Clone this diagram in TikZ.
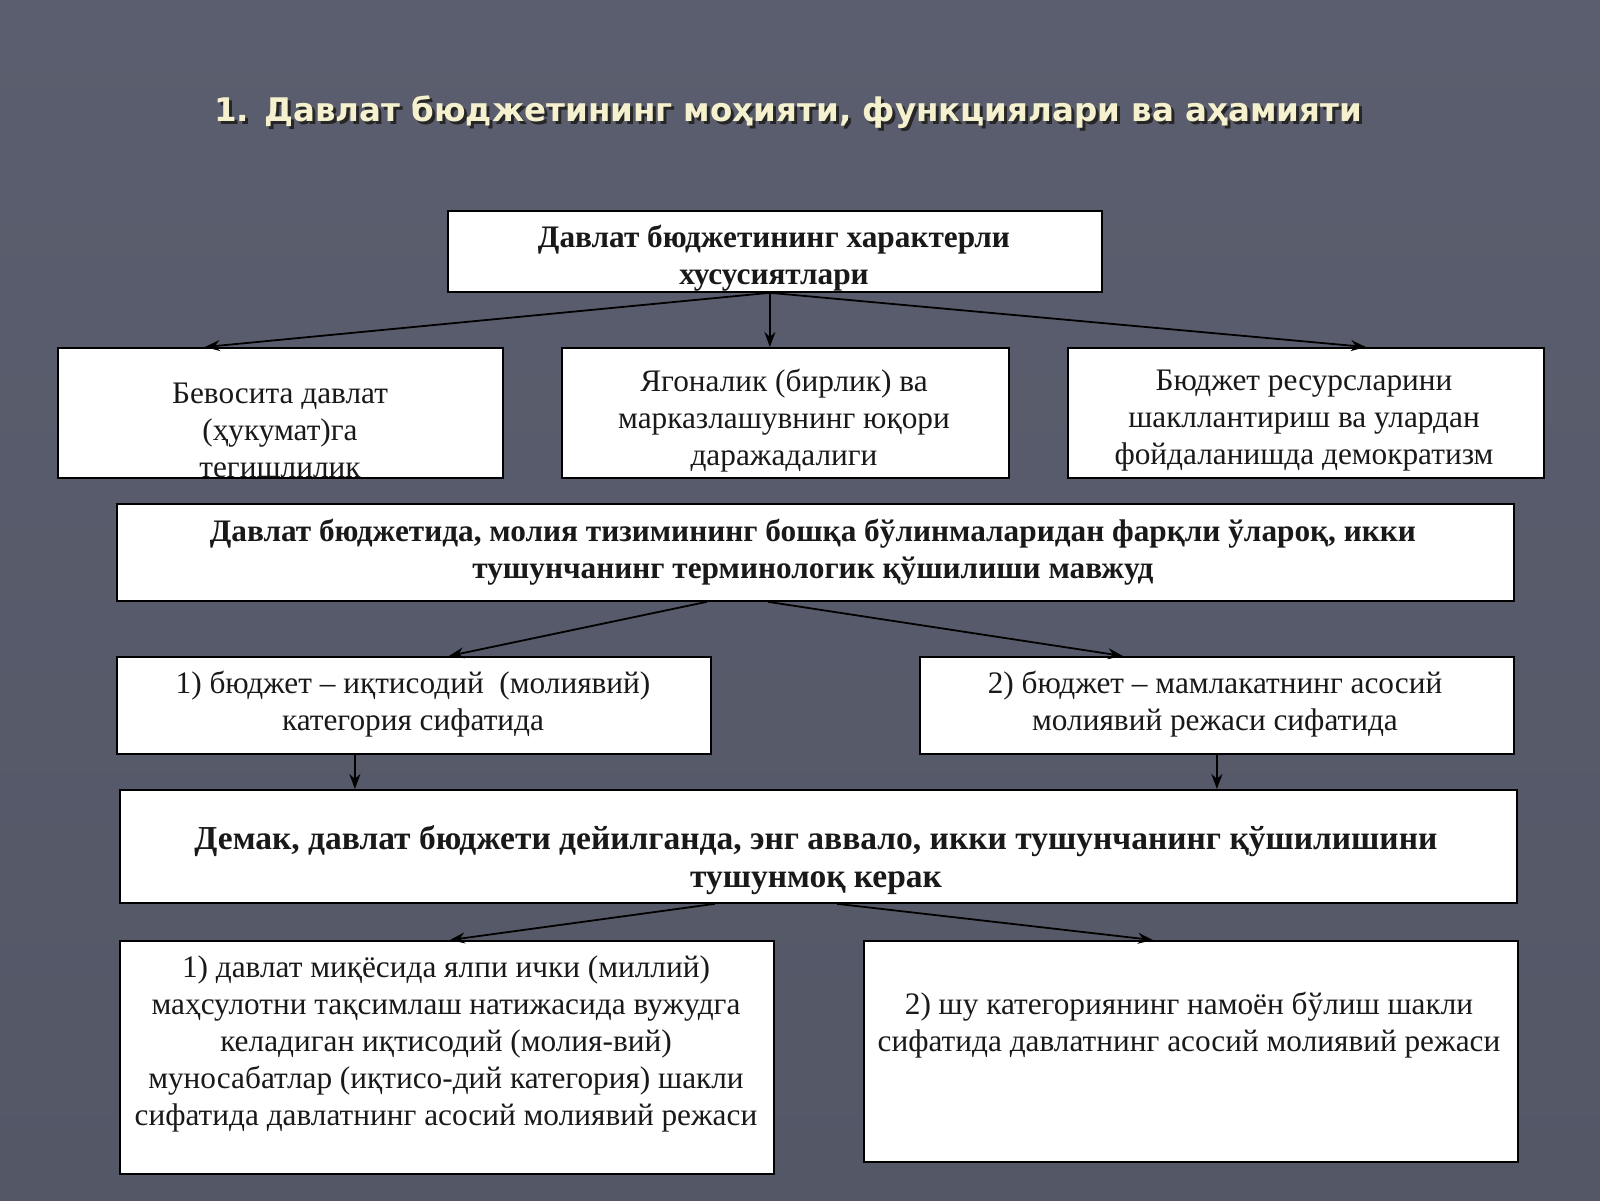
\documentclass[tikz,border=0pt]{standalone}
\usepackage{fontspec}
\setmainfont{Liberation Serif}
\newfontfamily\titlefont{DejaVu Sans}
\usetikzlibrary{arrows.meta}
\definecolor{bgtop}{HTML}{5B5E6E}
\definecolor{bgbot}{HTML}{545766}
\definecolor{titlec}{HTML}{F5F1CF}
\tikzset{
  bx/.style={draw=black, line width=1.8pt, fill=white, inner sep=0pt, anchor=north west},
  txt/.style={align=center, inner sep=0pt, font=\fontsize{31.3}{37}\selectfont, text=black!90},
  btxt/.style={txt, font=\fontsize{31.3}{37}\selectfont\bfseries},
  bigbtxt/.style={txt, font=\fontsize{33.5}{38.5}\selectfont\bfseries},
  arr/.style={line width=1.8pt, draw=black, -{Stealth[length=15pt,width=11pt]}},
  ttl/.style={inner sep=0pt, font=\titlefont\fontsize{32.5}{38}\selectfont\bfseries}
}
\begin{document}
\begin{tikzpicture}[x=1pt,y=-1pt]
\useasboundingbox (0,0) rectangle (1600,1200);
\shade[top color=bgtop, bottom color=bgbot] (0,0) rectangle (1600,1200);

% title with shadow
\node[ttl, text=black!85] (titleshadow) at (791,115) {1. Давлат бюджетининг моҳияти, функциялари ва аҳамияти};
\node[ttl, text=titlec] (title) at (788,112) {1. Давлат бюджетининг моҳияти, функциялари ва аҳамияти};

% boxes
\node[bx, minimum width=654, minimum height=81] (top) at (447,210) {};
\node[bx, minimum width=445, minimum height=130] (A) at (57,347) {};
\node[bx, minimum width=447, minimum height=130] (B) at (561,347) {};
\node[bx, minimum width=476, minimum height=130] (C) at (1067,347) {};
\node[bx, minimum width=1397, minimum height=97] (D) at (116,503) {};
\node[bx, minimum width=594, minimum height=97] (E) at (116,656) {};
\node[bx, minimum width=594, minimum height=97] (F) at (919,656) {};
\node[bx, minimum width=1397, minimum height=113] (G) at (119,789) {};
\node[bx, minimum width=654, minimum height=233] (H) at (119,940) {};
\node[bx, minimum width=654, minimum height=221] (I) at (863,940) {};

% texts
\node[btxt] (ttop) at (774,258) {Давлат бюджетининг характерли\\хусусиятлари};
\begin{scope}
\clip (A.north west) rectangle (A.south east);
\node[txt] (tA) at (280,430) {Бевосита давлат\\(ҳукумат)га\\тегишлилик};
\end{scope}
\node[txt] (tB) at (784,421) {Ягоналик (бирлик) ва\\марказлашувнинг юқори\\даражадалиги};
\node[txt] (tC) at (1304,421) {Бюджет ресурсларини\\шакллантириш ва улардан\\фойдаланишда демократизм};
\node[btxt] (tD) at (813,552) {Давлат бюджетида, молия тизимининг бошқа бўлинмаларидан фарқли ўлароқ, икки\\тушунчанинг терминологик қўшилиши мавжуд};
\node[txt] (tE) at (413,704) {1) бюджет – иқтисодий\ \ (молиявий)\\категория сифатида};
\node[txt] (tF) at (1215,704) {2) бюджет – мамлакатнинг асосий\\молиявий режаси сифатида};
\node[bigbtxt] (tG) at (816,860) {Демак, давлат бюджети дейилганда, энг аввало, икки тушунчанинг қўшилишини\\тушунмоқ керак};
\node[txt] (tH) at (446,1044) {1) давлат миқёсида ялпи ички (миллий)\\маҳсулотни тақсимлаш натижасида вужудга\\келадиган иқтисодий (молия-вий)\\муносабатлар (иқтисо-дий категория) шакли\\сифатида давлатнинг асосий молиявий режаси};
\node[txt] (tI) at (1189,1025) {2) шу категориянинг намоён бўлиш шакли\\сифатида давлатнинг асосий молиявий режаси};

% connectors
\coordinate (topS) at ([xshift=-5pt]top.south);
\draw[arr] (topS) -- ([xshift=-75.5pt]A.north);
\draw[arr] (topS) -- (topS |- B.north);
\draw[arr] (topS) -- ([xshift=60pt]C.north);
\draw[arr] ([xshift=-108.5pt]D.south) -- ([xshift=35pt]E.north);
\draw[arr] ([xshift=-47.5pt]D.south) -- ([xshift=-94pt]F.north);
\draw[arr] ([xshift=-59pt]E.south) -- ([xshift=-59pt]E.south |- G.north);
\draw[arr] (F.south) -- (F.south |- G.north);
\draw[arr] ([xshift=-103.5pt]G.south) -- ([xshift=3pt]H.north);
\draw[arr] ([xshift=18.5pt]G.south) -- ([xshift=-38pt]I.north);
\end{tikzpicture}
\end{document}
